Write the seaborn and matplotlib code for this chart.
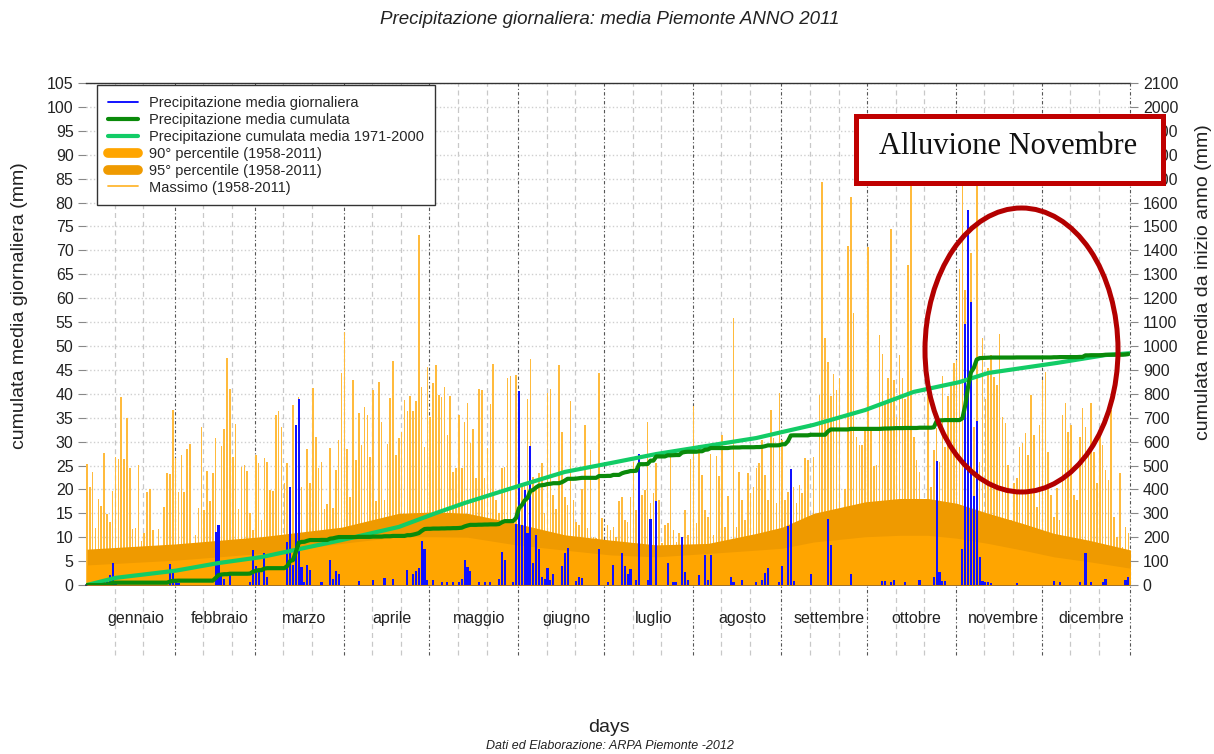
import numpy as np
import seaborn as sns
import matplotlib.pyplot as plt
from matplotlib.lines import Line2D
from matplotlib.patches import Rectangle, Ellipse

sns.set_theme(style="white")
plt.rcParams['font.family'] = ['Liberation Sans', 'DejaVu Sans']

# mesi
mesi = ["gennaio", "febbraio", "marzo", "aprile", "maggio", "giugno",
        "luglio", "agosto", "settembre", "ottobre", "novembre", "dicembre"]
giorni_mese = [31, 28, 31, 30, 31, 30, 31, 31, 30, 31, 30, 31]

# pioggia giornaliera 2011 (giorno 0 = 1 gennaio), solo i giorni con pioggia
giorni_pioggia = [6, 7, 8, 9, 10, 29, 30, 31, 32,
                  45, 46, 47, 48, 50, 57, 58, 59, 60, 62, 63,
                  70, 71, 72, 73, 74, 75, 76, 77, 78, 82, 85, 86, 87, 88, 95, 100, 104, 107,
                  112, 114, 115, 116, 117, 118, 119,
                  121, 124, 126, 128, 130, 131, 132, 133, 134, 137, 139, 141, 144, 145, 146, 149,
                  150, 151, 152, 153, 154, 155, 156, 157, 158, 159, 160, 161, 162, 163,
                  166, 167, 168, 171, 172, 173, 179,
                  182, 184, 187, 188, 189, 190, 192, 193, 196, 197, 199, 203, 205, 206, 208, 209, 210,
                  214, 216, 217, 218, 225, 226, 229, 234, 236, 237, 238, 242,
                  243, 245, 246, 247, 253, 259, 260, 267,
                  278, 279, 281, 282, 286, 291, 296, 297, 298, 299, 300,
                  306, 307, 308, 309, 310, 311, 312, 313, 314, 315, 316,
                  325, 338, 340, 347, 349, 351, 355, 356, 363, 364]
pioggia_mm = [1.3, 1.3, 2.0, 4.7, 0.6, 4.5, 2.9, 0.6, 0.5,
              11.1, 12.5, 2.0, 1.3, 2.0, 0.6, 7.3, 3.9, 3.1, 6.6, 1.7,
              9.0, 20.5, 4.1, 33.4, 39.0, 3.8, 0.6, 4.1, 3.1, 0.6, 5.3, 1.3, 3.0, 2.4, 0.8, 1.1, 1.5, 1.3,
              3.1, 2.3, 2.9, 3.6, 9.3, 7.6, 1.0,
              1.0, 0.6, 0.6, 0.6, 0.6, 1.3, 5.2, 3.7, 2.9, 0.7, 0.7, 0.7, 1.3, 7.0, 5.2, 0.6,
              12.7, 40.6, 12.5, 19.9, 10.9, 29.0, 4.6, 10.4, 7.6, 1.6, 1.3, 3.6, 1.0, 2.4,
              4.0, 6.6, 7.8, 0.8, 1.7, 1.5, 7.6,
              0.6, 4.1, 6.7, 3.9, 2.3, 3.4, 1.0, 27.5, 1.0, 13.9, 17.5, 4.7, 0.6, 0.6, 10.1, 2.7, 1.0,
              2.0, 6.2, 1.0, 6.3, 1.7, 0.6, 1.0, 0.7, 1.1, 2.5, 3.6, 0.6,
              3.9, 12.3, 24.3, 0.8, 2.4, 13.9, 8.3, 2.4,
              0.8, 0.8, 0.6, 1.0, 0.6, 1.1, 1.7, 25.9, 2.7, 0.8, 0.8,
              7.6, 54.7, 78.5, 59.3, 18.7, 34.4, 5.9, 0.8, 0.6, 0.6, 0.5,
              0.5, 0.8, 0.6, 0.7, 6.6, 0.6, 0.6, 1.3, 1.0, 1.7]

# massimo giornaliero 1958-2011
massimo = [25.4, 20.4, 23.7, 11.9, 17.9, 16.5, 27.7, 14.9, 13.2, 19.7,
           26.8, 26.4, 39.4, 26.4, 34.9, 24.5, 11.7, 11.9, 25.1, 9.3,
           10.8, 19.5, 20.0, 11.5, 7.5, 11.7, 7.0, 16.4, 23.4, 23.2,
           36.6, 26.6, 19.4, 27.2, 19.5, 28.5, 29.6, 7.3, 10.5, 16.2,
           33.1, 15.7, 23.9, 17.6, 23.4, 30.8, 8.0, 29.1, 32.6, 47.4,
           40.9, 26.7, 33.7, 16.0, 24.6, 25.1, 23.9, 15.1, 11.5, 27.2,
           25.5,
           13.6, 26.5, 25.7, 19.9, 19.7, 35.6, 36.3, 33.1, 21.3, 25.5,
           14.3, 37.7, 12.0, 39.4, 20.6, 10.0, 28.4, 21.4, 41.3, 31.0,
           24.4, 25.8, 16.0, 16.9, 28.7, 16.2, 24.1, 30.3, 44.3, 53.0,
           28.4, 18.5, 42.9, 26.2, 35.9, 29.3, 37.3, 35.6, 26.8, 40.8,
           17.6, 42.4, 34.2, 17.8, 29.6, 39.1, 46.9, 27.2, 30.8, 32.1,
           38.7, 36.3, 39.6, 36.4, 38.4, 73.2, 41.5, 28.8, 45.5, 35.2,
           42.2, 46.0, 39.7, 39.4, 41.5, 31.4, 39.5, 23.7, 24.4, 35.6,
           24.4, 34.2, 38.1, 29.8, 32.6, 22.3, 40.9, 40.7, 22.3, 28.6,
           37.9, 46.2, 17.8, 15.0, 24.4, 24.6, 43.2, 43.8, 12.9, 44.0,
           30.0, 21.3, 21.3, 39.0, 47.2, 22.5, 20.6, 23.5, 25.5, 15.0,
           40.2, 41.0, 18.8, 15.8, 46.0, 32.0, 18.5, 16.7, 38.4, 17.8,
           13.2, 12.5, 20.0, 33.5, 11.9, 28.2, 10.1, 9.8, 44.4, 14.0,
           9.4,
           12.5, 11.5, 12.2, 10.0, 17.6, 18.5, 13.5, 13.2, 18.5, 25.8,
           15.7, 19.2, 18.8, 19.9, 34.0, 17.1, 19.2, 25.5, 17.8, 8.7,
           12.5, 12.9, 27.2, 11.5, 9.0, 10.8, 10.0, 15.7, 10.5, 26.3,
           37.4, 12.9, 29.3, 23.0, 15.7, 14.3, 27.5, 10.5, 27.0, 22.7,
           31.4, 12.2, 18.6, 9.4, 55.8, 12.2, 23.7, 17.8, 13.6, 23.5,
           19.2, 20.6, 24.4, 25.5, 30.3, 23.0, 17.8, 36.6, 30.7, 17.1,
           40.1, 30.3,
           17.8, 19.5, 21.3, 20.6, 17.1, 21.0, 19.2, 26.5, 26.2, 14.3,
           26.8, 10.0, 39.7, 84.4, 51.7, 46.7, 39.5, 44.1, 40.8, 43.4,
           14.3, 20.0, 71.0, 81.2, 56.8, 31.0, 29.3, 29.3, 33.1, 70.8,
           32.4, 24.9, 25.1, 52.3, 48.3, 38.0, 43.2, 74.5, 42.9, 35.1,
           48.1, 43.2, 39.0, 66.9, 88.0, 31.0, 26.2, 23.7, 16.7, 17.8,
           40.9, 20.6, 28.2, 32.8, 25.8, 43.7, 28.9, 39.5, 42.2, 46.4,
           47.1,
           66.2, 88.0, 61.7, 78.5, 69.4, 33.1, 86.0, 25.8, 51.6, 39.0,
           45.3, 48.1, 43.6, 41.8, 52.6, 35.2, 33.8, 25.1, 13.6, 21.3,
           22.3, 28.9, 29.8, 31.9, 27.2, 39.7, 31.4, 16.4, 33.5, 42.9,
           44.6, 27.9, 18.8, 14.3, 20.2, 13.6, 35.6, 38.1, 32.1, 33.5,
           18.8, 17.8, 31.0, 37.1, 33.1, 28.2, 38.0, 27.9, 21.3, 31.4,
           29.3, 24.1, 22.0, 36.6, 14.3, 10.1, 23.5, 8.0, 12.2, 10.8]

perc_giorni = [0, 31, 61, 89, 109, 122, 133, 150, 167, 183, 199, 217,
               234, 243, 254, 272, 284, 294, 304, 315, 327, 338, 350, 365]
perc90 = [4.2, 5.2, 6.6, 8.7, 10.1, 10.1, 10.0, 8.4, 7.3, 6.3, 5.9, 6.6,
          7.3, 7.7, 9.0, 10.1, 10.4, 10.4, 9.8, 8.7, 7.3, 5.9, 4.9, 3.5]
perc95 = [7.5, 8.6, 10.1, 12.1, 15.0, 15.3, 15.0, 12.9, 10.5, 9.4, 8.4, 8.7,
          10.8, 12.1, 15.0, 17.4, 18.1, 18.1, 17.1, 15.0, 12.9, 10.8, 9.4, 7.3]

# cumulata media 1971-2000
clima_giorni = [0, 10, 31, 46, 61, 89, 109, 122, 132, 150, 167, 183, 199,
                223, 234, 243, 254, 272, 289, 305, 315, 339, 356, 365]
clima_cum = [0, 30, 60, 92, 117, 188, 243, 301, 343, 411, 473, 510, 548,
             594, 615, 640, 670, 732, 808, 849, 887, 929, 962, 970]

giorni = np.arange(365)
pioggia = np.zeros(365)
pioggia[giorni_pioggia] = pioggia_mm
cumulata = np.cumsum(pioggia)

fig = plt.figure(figsize=(12.14, 7.54), dpi=100)
ax = fig.add_axes([0.0709, 0.2241, 0.8602, 0.6658])

sns.barplot(x=giorni, y=massimo, native_scale=True, width=0.55, color="#ffbb3d",
            saturation=1, errorbar=None, linewidth=0, ax=ax, zorder=1)
ax.fill_between(perc_giorni, 0, perc95, color="#ef9a00", lw=0, zorder=2)
ax.fill_between(perc_giorni, 0, perc90, color="#ffa500", lw=0, zorder=3)
sns.barplot(x=giorni, y=pioggia, native_scale=True, width=0.75, color="#1010ff",
            saturation=1, errorbar=None, linewidth=0, ax=ax, zorder=4)

ax.set_xlim(-0.3, 364.7)
ax.set_ylim(0, 105)
ax.set_yticks(range(0, 106, 5))
ax.yaxis.grid(True, color="#cfcfcf", ls=":", lw=1)
ax.xaxis.grid(False)
ax.set_axisbelow(True)

inizi = np.cumsum([0] + giorni_mese[:-1])
centri = inizi + np.array(giorni_mese) / 2 + 1.5
ax.set_xticks(centri)
ax.set_xticklabels(mesi)
ax.tick_params(axis="x", length=0, pad=19, labelsize=11.5, labelcolor="#222222")
ax.tick_params(axis="y", length=6, color="#888888", width=0.8, labelsize=11.5,
               labelcolor="#222222", pad=3, left=True)

trans = ax.get_xaxis_transform()
for s in inizi:
    for k in (10, 20):
        ax.plot([s - 0.3 + k] * 2, [-0.14, 1], transform=trans, clip_on=False,
                color="#c8c8c8", lw=0.9, ls=(0, (4, 3)), zorder=0.5)
for s in list(inizi[1:]) + [365]:
    ax.plot([s - 0.3] * 2, [-0.14, 1], transform=trans, clip_on=False,
            color="#555555", lw=0.8, ls=(0, (3, 2, 1, 2)), zorder=0.6)

for side in ["left", "right"]:
    ax.spines[side].set_visible(False)
ax.spines["top"].set_color("#333333")
ax.spines["top"].set_linewidth(1)
ax.spines["bottom"].set_color("#222244")
ax.spines["bottom"].set_linewidth(1.2)
ax.set_xlabel("")
ax.set_ylabel("")

ax2 = ax.twinx()
sns.lineplot(x=clima_giorni, y=clima_cum, color="#12cc66", lw=3, ax=ax2, zorder=5)
sns.lineplot(x=giorni, y=cumulata, color="#0a8a0a", lw=3, ax=ax2, zorder=6)
ax2.set_ylim(0, 2100)
ax2.set_yticks(range(0, 2101, 100))
ax2.tick_params(axis="y", length=6, color="#888888", width=0.8, labelsize=11.5,
                labelcolor="#222222", pad=3, right=True)
ax2.grid(False)
for side in ["left", "right", "top", "bottom"]:
    ax2.spines[side].set_visible(False)
ax2.set_ylabel("")

handles = [
    Line2D([], [], color="#0000ff", lw=1.3),
    Line2D([], [], color="#0a8a0a", lw=3),
    Line2D([], [], color="#12cc66", lw=3),
    Line2D([], [], color="#ffa500", lw=7, solid_capstyle="round"),
    Line2D([], [], color="#ef9a00", lw=7, solid_capstyle="round"),
    Line2D([], [], color="#ffb833", lw=1.3),
]
labels = ["Precipitazione media giornaliera", "Precipitazione media cumulata",
          "Precipitazione cumulata media 1971-2000", "90° percentile (1958-2011)",
          "95° percentile (1958-2011)", "Massimo (1958-2011)"]
leg = ax2.legend(handles, labels, loc="upper left", bbox_to_anchor=(0.0105, 0.996),
                 borderaxespad=0, fontsize=10.5, frameon=True, fancybox=False,
                 framealpha=1, edgecolor="#333333", handlelength=2.05,
                 handletextpad=0.75, labelspacing=0.2, borderpad=0.75)
leg.get_frame().set_linewidth(1)
leg.set_zorder(20)

fig.text(0.5025, 1 - 20 / 754, "Precipitazione giornaliera: media Piemonte ANNO 2011",
         ha="center", va="center", fontsize=13.5, style="italic", color="#222222")
fig.text(20 / 1214, 1 - 306 / 754, "cumulata media giornaliera (mm)", rotation=90,
         ha="center", va="center", fontsize=14, color="#222222")
fig.text(1203 / 1214, 1 - 282 / 754, "cumulata media da inizio anno (mm)", rotation=90,
         ha="center", va="center", fontsize=14, color="#222222")
fig.text(609 / 1214, 1 - 727 / 754, "days", ha="center", va="center", fontsize=14,
         color="#222222")
fig.text(610 / 1214, 1 - 746 / 754, "Dati ed Elaborazione: ARPA Piemonte -2012",
         ha="center", va="center", fontsize=9, style="italic", color="#222222")

# riquadro e cerchio dell'alluvione
box = Rectangle((855.5 / 1214, 1 - 182.5 / 754), 307 / 1214, 67 / 754,
                transform=fig.transFigure, facecolor="white", edgecolor="#c00000",
                lw=3.6, zorder=30)
fig.add_artist(box)
fig.text(1008 / 1214, 1 - 147 / 754, "Alluvione Novembre", ha="center", va="center",
         fontsize=22, family="Liberation Serif", color="#111111", zorder=31)
ell = Ellipse((1021.5 / 1214, 1 - 350 / 754), 193 / 1214, 284 / 754,
              transform=fig.transFigure, facecolor="none", edgecolor="#b30000",
              lw=3.6, zorder=32)
fig.add_artist(ell)

fig.savefig("out.png", dpi=100)
